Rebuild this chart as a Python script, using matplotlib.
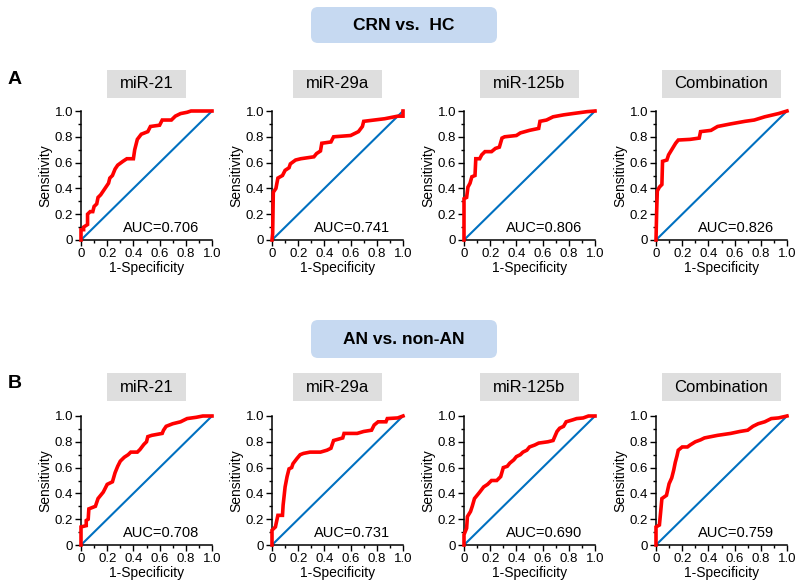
import matplotlib
matplotlib.use("Agg")
import matplotlib.pyplot as plt
from matplotlib.patches import FancyBboxPatch, Rectangle
from matplotlib.ticker import MultipleLocator, FixedFormatter, FixedLocator

plt.rcParams['font.family'] = ['Liberation Sans', 'DejaVu Sans']

markers = ['miR-21', 'miR-29a', 'miR-125b', 'Combination']
auc_a = ['0.706', '0.741', '0.806', '0.826']
auc_b = ['0.708', '0.731', '0.690', '0.759']
headers = ['CRN vs.  HC', 'AN vs. non-AN']
tick_vals = [0, 0.2, 0.4, 0.6, 0.8, 1.0]
tick_labels = ['0', '0.2', '0.4', '0.6', '0.8', '1.0']

# A: CRN vs. HC
a21_x = [0, 0, 0.02, 0.02, 0.05, 0.05, 0.07, 0.09, 0.10, 0.12, 0.13, 0.15, 0.17, 0.19, 0.21, 0.22,
         0.24, 0.26, 0.28, 0.32, 0.35, 0.40, 0.41, 0.43, 0.46, 0.51, 0.53, 0.60, 0.62, 0.69, 0.72,
         0.76, 0.81, 0.84, 1.0]
a21_y = [0, 0.08, 0.08, 0.10, 0.12, 0.20, 0.22, 0.22, 0.26, 0.28, 0.33, 0.35, 0.38, 0.41, 0.44, 0.48,
         0.50, 0.55, 0.58, 0.61, 0.63, 0.63, 0.70, 0.78, 0.82, 0.84, 0.88, 0.89, 0.93, 0.93, 0.96,
         0.98, 0.99, 1.0, 1.0]
a29_x = [0, 0.005, 0.01, 0.03, 0.045, 0.08, 0.10, 0.13, 0.14, 0.18, 0.22, 0.32, 0.34, 0.37, 0.38,
         0.45, 0.47, 0.60, 0.64, 0.66, 0.69, 0.70, 0.78, 0.86, 0.96, 1.0, 1.0]
a29_y = [0, 0.05, 0.37, 0.40, 0.48, 0.50, 0.54, 0.56, 0.59, 0.62, 0.63, 0.645, 0.67, 0.69, 0.75,
         0.76, 0.80, 0.81, 0.83, 0.84, 0.88, 0.92, 0.93, 0.94, 0.96, 0.96, 1.0]
a125_x = [0, 0, 0.02, 0.03, 0.046, 0.06, 0.084, 0.09, 0.12, 0.135, 0.16, 0.21, 0.24, 0.27, 0.29,
          0.31, 0.40, 0.43, 0.50, 0.57, 0.58, 0.63, 0.68, 0.76, 0.83, 0.94, 1.0]
a125_y = [0, 0.32, 0.33, 0.41, 0.44, 0.49, 0.50, 0.63, 0.63, 0.66, 0.685, 0.685, 0.71, 0.72, 0.79,
          0.80, 0.81, 0.83, 0.85, 0.865, 0.92, 0.93, 0.955, 0.97, 0.98, 0.995, 1.0]
acomb_x = [0, 0.005, 0.01, 0.026, 0.045, 0.05, 0.083, 0.096, 0.12, 0.15, 0.17, 0.26, 0.33, 0.34,
           0.42, 0.47, 0.57, 0.68, 0.75, 0.83, 0.935, 1.0]
acomb_y = [0, 0.22, 0.38, 0.41, 0.43, 0.61, 0.62, 0.66, 0.70, 0.75, 0.775, 0.78, 0.79, 0.84,
           0.85, 0.88, 0.90, 0.92, 0.93, 0.955, 0.98, 1.0]

# B: AN vs. non-AN
b21_x = [0, 0, 0.04, 0.04, 0.055, 0.06, 0.11, 0.13, 0.17, 0.20, 0.24, 0.26, 0.28, 0.30, 0.33, 0.36,
         0.38, 0.43, 0.45, 0.48, 0.50, 0.51, 0.54, 0.62, 0.63, 0.65, 0.70, 0.76, 0.81, 0.88, 0.93, 1.0]
b21_y = [0, 0.14, 0.15, 0.19, 0.20, 0.28, 0.30, 0.36, 0.41, 0.47, 0.49, 0.56, 0.61, 0.65, 0.68, 0.70,
         0.72, 0.72, 0.74, 0.78, 0.80, 0.84, 0.85, 0.865, 0.89, 0.92, 0.94, 0.955, 0.98, 0.99, 1.0, 1.0]
b29_x = [0, 0, 0.026, 0.045, 0.08, 0.085, 0.10, 0.115, 0.13, 0.15, 0.16, 0.19, 0.215, 0.24, 0.29,
         0.37, 0.42, 0.45, 0.47, 0.54, 0.55, 0.65, 0.70, 0.76, 0.78, 0.81, 0.87, 0.88, 0.96, 1.0]
b29_y = [0, 0.115, 0.14, 0.23, 0.23, 0.31, 0.45, 0.53, 0.59, 0.60, 0.63, 0.67, 0.70, 0.71, 0.72,
         0.72, 0.735, 0.75, 0.81, 0.83, 0.865, 0.865, 0.88, 0.89, 0.93, 0.955, 0.955, 0.98, 0.985, 1.0]
b125_x = [0, 0, 0.02, 0.026, 0.05, 0.063, 0.08, 0.12, 0.15, 0.18, 0.21, 0.25, 0.28, 0.30, 0.33,
          0.35, 0.38, 0.40, 0.43, 0.45, 0.48, 0.50, 0.54, 0.57, 0.64, 0.68, 0.71, 0.73, 0.76, 0.78,
          0.83, 0.86, 0.91, 0.95, 1.0]
b125_y = [0, 0.08, 0.13, 0.22, 0.26, 0.30, 0.36, 0.41, 0.45, 0.47, 0.50, 0.50, 0.53, 0.60, 0.61,
          0.635, 0.66, 0.685, 0.70, 0.72, 0.735, 0.76, 0.775, 0.79, 0.80, 0.81, 0.88, 0.905, 0.92,
          0.955, 0.97, 0.98, 0.985, 1.0, 1.0]
bcomb_x = [0, 0, 0.026, 0.035, 0.045, 0.08, 0.10, 0.12, 0.135, 0.147, 0.16, 0.17, 0.20, 0.24, 0.26,
           0.30, 0.34, 0.37, 0.42, 0.47, 0.57, 0.64, 0.70, 0.74, 0.78, 0.83, 0.88, 0.935, 1.0]
bcomb_y = [0, 0.14, 0.155, 0.25, 0.36, 0.385, 0.475, 0.52, 0.58, 0.64, 0.69, 0.735, 0.76, 0.76,
           0.775, 0.80, 0.815, 0.83, 0.84, 0.85, 0.865, 0.88, 0.89, 0.92, 0.94, 0.955, 0.98, 0.985, 1.0]

curves_a = [(a21_x, a21_y), (a29_x, a29_y), (a125_x, a125_y), (acomb_x, acomb_y)]
curves_b = [(b21_x, b21_y), (b29_x, b29_y), (b125_x, b125_y), (bcomb_x, bcomb_y)]

W, H = 800, 588
fig = plt.figure(figsize=(W / 100, H / 100), dpi=100)

lefts = [81, 272, 464, 656]   # pixel left edge of each axes
ax_w, ax_h = 131, 129
rows = [(240, curves_a, auc_a, 84), (545, curves_b, auc_b, 387)]  # axes bottom px, data, auc, title y px

title_texts = []
for bottom_px, curves, aucs, title_y in rows:
    for i in range(4):
        ax = fig.add_axes([lefts[i] / W, (H - bottom_px) / H, ax_w / W, ax_h / H])
        x, y = curves[i]
        ax.plot([0, 1], [0, 1], color='#0070C0', lw=1.5, clip_on=False, zorder=2)
        ax.plot(x, y, color='#FF0000', lw=2.6, clip_on=False, zorder=3, solid_joinstyle='miter')
        ax.set_xlim(0, 1)
        ax.set_ylim(0, 1)
        for s in ['top', 'right']:
            ax.spines[s].set_visible(False)
        for s in ['left', 'bottom']:
            ax.spines[s].set_linewidth(1.1)
        for axis in [ax.xaxis, ax.yaxis]:
            axis.set_major_locator(FixedLocator(tick_vals))
            axis.set_major_formatter(FixedFormatter(tick_labels))
            axis.set_minor_locator(MultipleLocator(0.1))
        ax.tick_params(which='major', length=4, width=1, labelsize=9.5, pad=1.5)
        ax.tick_params(which='minor', length=2.5, width=1)
        ax.set_xlabel('1-Specificity', fontsize=10, labelpad=1)
        ax.set_ylabel('Sensitivity', fontsize=10, labelpad=2)
        ax.text(0.61, 0.09, 'AUC=' + aucs[i], fontsize=10.5, ha='center', va='center',
                transform=ax.transAxes)
        cx = (lefts[i] + ax_w / 2) / W
        t = fig.text(cx, 1 - title_y / H, markers[i], fontsize=12, ha='center', va='center', zorder=5)
        title_texts.append((t, title_y))

# grey boxes behind the marker titles
r = fig.canvas.get_renderer()
for t, title_y in title_texts:
    bb = t.get_window_extent(renderer=r)
    cx = (bb.x0 + bb.x1) / 2
    w = bb.width + 26
    h = 28
    fig.patches.append(Rectangle(((cx - w / 2) / 100, (H - title_y - h / 2) / 100), w / 100, h / 100,
                                 transform=fig.dpi_scale_trans, facecolor='#DEDEDE',
                                 edgecolor='none', zorder=1))

# blue header boxes
for (top_px, bot_px), label in zip([(7, 43), (320, 358)], headers):
    fig.patches.append(FancyBboxPatch((311 / 100, (H - bot_px) / 100), 186 / 100, (bot_px - top_px) / 100,
                                      boxstyle='round,pad=0,rounding_size=0.07',
                                      transform=fig.dpi_scale_trans, facecolor='#C6D9F1',
                                      edgecolor='none', zorder=1))
    fig.text(404 / W, 1 - (top_px + bot_px) / 2 / H, label, fontsize=12.5, fontweight='bold',
             ha='center', va='center', family=['Liberation Sans Narrow', 'Liberation Sans', 'DejaVu Sans'],
             zorder=5)

fig.text(15 / W, 1 - 80 / H, 'A', fontsize=14, fontweight='bold', ha='center', va='center')
fig.text(15 / W, 1 - 383 / H, 'B', fontsize=14, fontweight='bold', ha='center', va='center')

fig.savefig('out.png', dpi=100)
